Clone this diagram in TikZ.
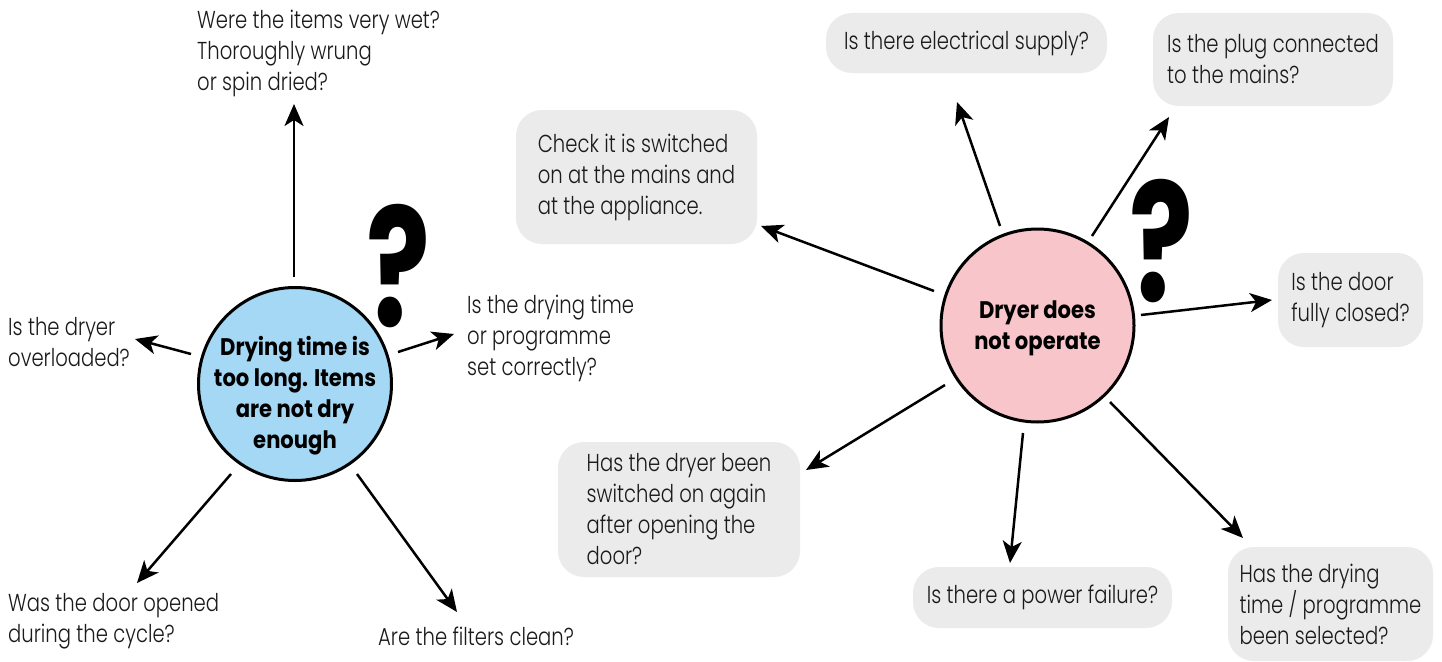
\documentclass[tikz,border=0pt]{standalone}
\usepackage{fontspec}
\usetikzlibrary{arrows.meta}
\IfFontExistsTF{Poppins Light}{\setmainfont{Poppins Light}[FakeStretch=0.8]}{\setmainfont{Poppins}[FakeStretch=0.8]}
\newfontfamily\boldf{Poppins}[FakeStretch=0.88]
\newfontfamily\qfont{Poppins}[FakeStretch=0.72]
\definecolor{cblue}{HTML}{A4D8F4}
\definecolor{cpink}{HTML}{F7C5CA}
\definecolor{cgray}{HTML}{EBEBEB}
\definecolor{ink}{HTML}{1A1A1A}
\tikzset{
  lbl/.style={align=left, inner sep=0pt, anchor=west, text=ink, font=\fontsize{24.5}{31}\selectfont},
  qbox/.style={fill=cgray, rounded corners=26pt, align=left, inner sep=0pt, text=ink, font=\fontsize{24.5}{31}\selectfont},
  hub/.style={circle, draw=black, line width=3pt, minimum size=193pt, inner sep=0pt},
  hubtext/.style={align=center, inner sep=0pt, font=\boldf\bfseries\fontsize{24}{31}\selectfont},
  qmark/.style={inner sep=0pt, font=\qfont\bfseries\fontsize{165}{165}\selectfont},
  arr/.style={line width=2.5pt, -{Stealth[length=22pt,width=19pt,inset=6pt]}}
}
\begin{document}
\begin{tikzpicture}[x=1pt,y=-1pt]
\useasboundingbox[fill=white] (0,0) rectangle (1442,661);

% ---------- left hub ----------
\node[hub, fill=cblue] (L) at (295,384) {};
\node[hubtext] (Lt) at (295,396) {Drying time is\\too long. Items\\are not dry\\enough};
\node[qmark] (Lq) at (398,266) {?};

\node[lbl] (l1) at (197,53) {Were the items very wet?\\Thoroughly wrung\\or spin dried?};
\node[lbl] (l2) at (8,342) {Is the dryer\\overloaded?};
\node[lbl] (l3) at (467,338) {Is the drying time\\or programme\\set correctly?};
\node[lbl] (l4) at (8,621) {Was the door opened\\during the cycle?};
\node[lbl] (l5) at (378,636) {Are the filters clean?};

\coordinate (Lup1) at (294,277); \coordinate (Lup2) at (294,104);
\coordinate (Lw1) at (191,354);  \coordinate (Lw2) at (135,339);
\coordinate (Le1) at (398,352);  \coordinate (Le2) at (454,334);
\coordinate (Lsw1) at (231,474); \coordinate (Lsw2) at (137,583);
\coordinate (Lse1) at (357,474); \coordinate (Lse2) at (457,612);
\draw[arr] (Lup1) -- (Lup2);
\draw[arr] (Lw1) -- (Lw2);
\draw[arr] (Le1) -- (Le2);
\draw[arr] (Lsw1) -- (Lsw2);
\draw[arr] (Lse1) -- (Lse2);

% ---------- right hub ----------
\node[hub, fill=cpink] (R) at (1037.5,325.5) {};
\node[hubtext] (Rt) at (1037.5,328) {Dryer does\\not operate};
\node[qmark] (Rq) at (1161,241) {?};

\node[qbox, minimum width=281pt, minimum height=60pt] (b1) at (966.5,43) {Is there electrical supply?};
\node[qbox, minimum width=240pt, minimum height=93pt] (b2) at (1273,59.5) {Is the plug connected\\to the mains?};
\node[qbox, minimum width=241pt, minimum height=134pt] (b3) at (636.5,177) {Check it is switched\\on at the mains and\\at the appliance.};
\node[qbox, minimum width=145pt, minimum height=94pt] (b4) at (1350.5,300) {Is the door\\fully closed?};
\node[qbox, minimum width=242pt, minimum height=135pt] (b5) at (679,509.5) {Has the dryer been\\switched on again\\after opening the\\door?};
\node[qbox, minimum width=259pt, minimum height=61pt] (b6) at (1042.5,597.5) {Is there a power failure?};
\node[qbox, minimum width=205pt, minimum height=114pt] (b7) at (1330.5,604) {Has the drying\\time / programme\\been selected?};

\coordinate (R1a) at (934,291);  \coordinate (R1b) at (761,226);
\coordinate (R2a) at (1000,226); \coordinate (R2b) at (957,102);
\coordinate (R3a) at (1092,236); \coordinate (R3b) at (1169,117);
\coordinate (R4a) at (1141,315); \coordinate (R4b) at (1272,300);
\coordinate (R5a) at (945,385);  \coordinate (R5b) at (806,470);
\coordinate (R6a) at (1023,433); \coordinate (R6b) at (1010,563);
\coordinate (R7a) at (1110,402); \coordinate (R7b) at (1243,538);
\draw[arr] (R1a) -- (R1b);
\draw[arr] (R2a) -- (R2b);
\draw[arr] (R3a) -- (R3b);
\draw[arr] (R4a) -- (R4b);
\draw[arr] (R5a) -- (R5b);
\draw[arr] (R6a) -- (R6b);
\draw[arr] (R7a) -- (R7b);
\end{tikzpicture}
\end{document}
